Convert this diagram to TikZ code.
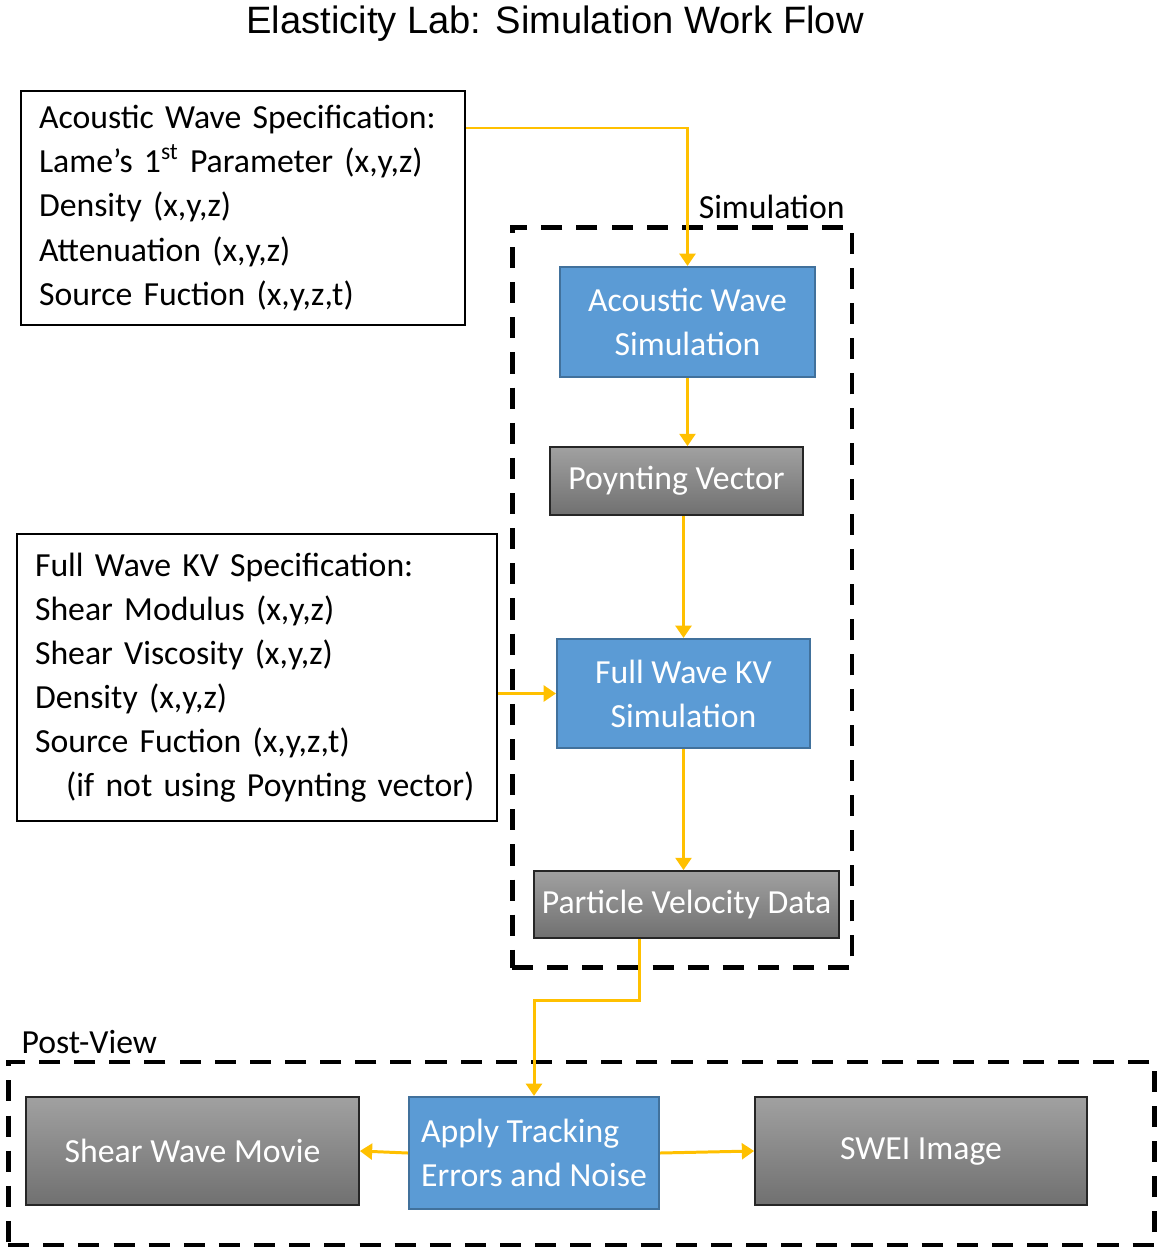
\documentclass[tikz,border=0pt]{standalone}
\usepackage{fontspec}
\setmainfont{Carlito}
\newfontfamily\titlefont{Liberation Sans}
\usetikzlibrary{arrows.meta,positioning,calc}
\definecolor{flowyellow}{HTML}{FFC000}
\definecolor{simblue}{HTML}{5B9BD5}
\definecolor{simedge}{HTML}{41719C}
\tikzset{
  specbox/.style={draw, line width=1.2pt, align=left, anchor=north west, inner xsep=0.36cm,
    font=\fontsize{19.2}{25.1}\selectfont},
  simbox/.style={draw=simedge, line width=1.2pt, fill=simblue, text=white, align=center,
    font=\fontsize{19.2}{25}\selectfont},
  databox/.style={draw=black!85, line width=1pt, top color=black!37, bottom color=black!56,
    text=white, align=center, font=\fontsize{19.2}{25}\selectfont},
  groupbox/.style={draw, line width=2.8pt, dash pattern=on 12pt off 8pt},
  grouplabel/.style={font=\fontsize{19.2}{22}\selectfont, inner sep=2pt},
  flow/.style={draw=flowyellow, line width=1.7pt, -{Triangle[length=7pt,width=9pt]}}
}
\begin{document}
\begin{tikzpicture}[x=0.02cm, y=-0.02cm]
\useasboundingbox (0,0) rectangle (1162,1254);
\node[font=\titlefont\fontsize{21.7}{24}\selectfont] (title) at (555,24) {Elasticity Lab: Simulation Work Flow};

% input specifications
\node[specbox, minimum width=8.88cm, minimum height=4.68cm, text width=8.16cm] (awspec) at (20,90)
  {Acoustic Wave Specification:\\Lame’s 1\textsuperscript{st} Parameter (x,y,z)\\Density (x,y,z)\\Attenuation (x,y,z)\\Source Fuction (x,y,z,t)};
\node[specbox, minimum width=9.6cm, minimum height=5.74cm, text width=8.88cm] (kvspec) at (16,533)
  {Full Wave KV Specification:\\Shear Modulus (x,y,z)\\Shear Viscosity (x,y,z)\\Density (x,y,z)\\Source Fuction (x,y,z,t)\\\hspace*{0.62cm}(if not using Poynting vector)};

% simulation group
\node[groupbox, minimum width=6.8cm, minimum height=14.82cm] (sim) at (682,597.5) {};
\node[grouplabel, anchor=south east] (simlabel) at ([xshift=-0.12cm,yshift=0.04cm]sim.north east) {Simulation};
\node[simbox, minimum width=5.1cm, minimum height=2.2cm] (aws) at (687.5,322) {Acoustic Wave\\Simulation};
\node[databox, minimum width=5.06cm, minimum height=1.36cm] (pvec) at (676.5,481) {Poynting Vector};
\node[simbox, minimum width=5.06cm, minimum height=2.18cm] (kvs) at (683.5,693.5) {Full Wave KV\\Simulation};
\node[databox, minimum width=6.1cm, minimum height=1.34cm] (pvd) at (686.5,904.5) {Particle Velocity Data};

% post-view group
\node[groupbox, minimum width=22.94cm, minimum height=3.66cm] (post) at (581.5,1153.5) {};
\node[grouplabel, anchor=south west] (postlabel) at ([xshift=0.24cm,yshift=0.04cm]post.north west) {Post-View};
\node[databox, minimum width=6.66cm, minimum height=2.16cm] (movie) at (192.5,1151) {Shear Wave Movie};
\node[simbox, align=left, minimum width=5cm, minimum height=2.24cm] (track) at (534,1153) {Apply Tracking\\Errors and Noise};
\node[databox, minimum width=6.64cm, minimum height=2.16cm] (swei) at (921,1151) {SWEI Image};

% connectors
\draw[flow] ([yshift=-0.76cm]awspec.north east) -| (aws.north);
\draw[flow] (aws.south) -- (pvec.north -| aws.south);
\draw[flow] (pvec.south -| kvs.north) -- (kvs.north);
\draw[flow] (kvspec.east |- kvs.west) -- (kvs.west);
\draw[flow] (kvs.south) -- (pvd.north -| kvs.south);
\draw[flow] ([xshift=-0.94cm]pvd.south) -- ++(0,62) -| (track.north);
\draw[flow] (track.west) -- (movie.east);
\draw[flow] (track.east) -- (swei.west);
\end{tikzpicture}
\end{document}
